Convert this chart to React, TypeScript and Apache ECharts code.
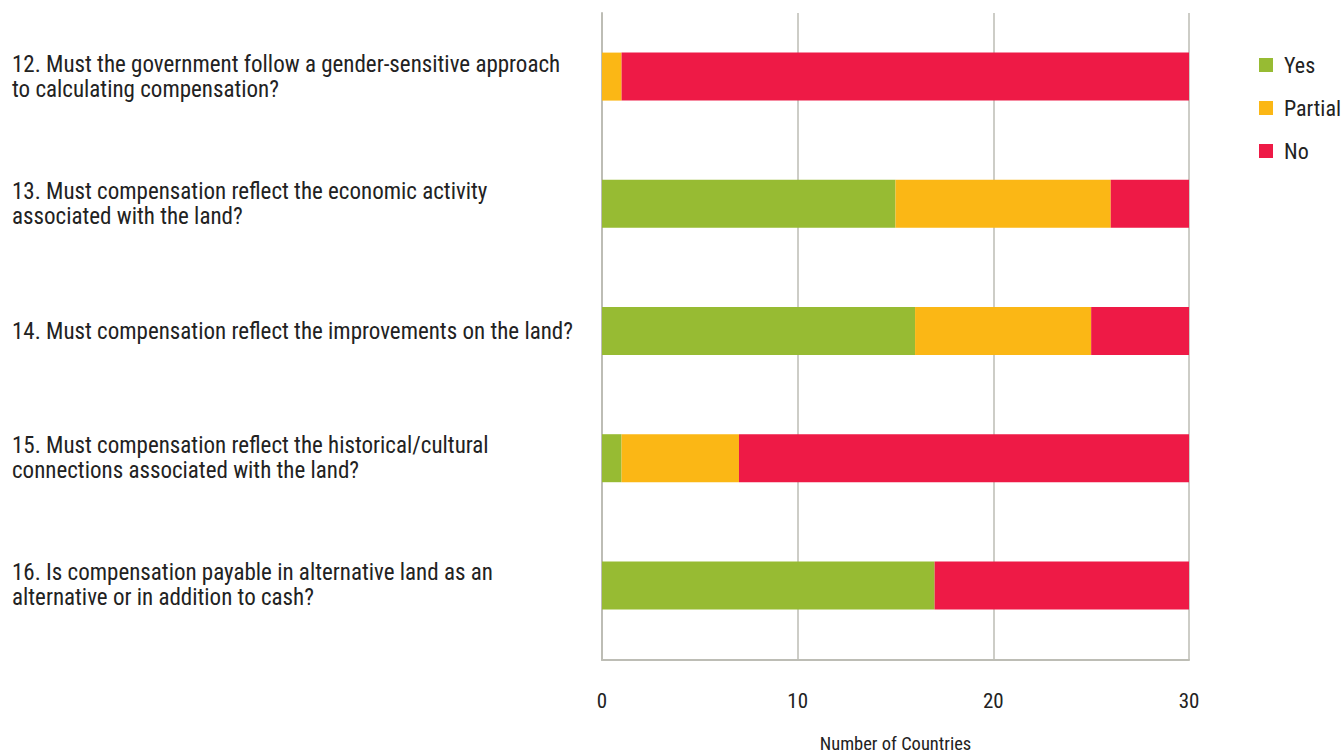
import React, { useEffect, useRef } from "react";
import * as echarts from "echarts";

const categories = [
  "12. Must the government follow a gender-sensitive approach\nto calculating compensation?",
  "13. Must compensation reflect the economic activity\nassociated with the land?",
  "14. Must compensation reflect the improvements on the land?",
  "15. Must compensation reflect the historical/cultural\nconnections associated with the land?",
  "16. Is compensation payable in alternative land as an\nalternative or in addition to cash?",
];
const yesValues = [0, 15, 16, 1, 17];
const partialValues = [1, 11, 9, 6, 0];
const noValues = [29, 4, 5, 23, 13];
const seriesNames = ["Yes", "Partial", "No"];
const colors = ["#97bb33", "#fbb715", "#ee1a46"];

const FONT = "'Roboto Condensed', 'Liberation Sans Narrow', Roboto, sans-serif";
const LINE = "#bdbdb5";

export default function App() {
  const ref = useRef<HTMLDivElement>(null);
  useEffect(() => {
    document.body.style.margin = "0";
    const chart = echarts.init(ref.current!, null, { renderer: "svg" });
    const values = [yesValues, partialValues, noValues];
    chart.setOption({
      animation: false,
      color: colors,
      textStyle: { fontFamily: FONT },
      legend: {
        orient: "vertical",
        left: 1254,
        top: 49,
        itemWidth: 14,
        itemHeight: 14,
        itemGap: 21,
        icon: "rect",
        data: seriesNames,
        textStyle: { fontFamily: FONT, fontSize: 22, color: "#222", padding: [0, 0, 0, 6] },
      },
      grid: [
        { left: 602, top: 13, right: 154, bottom: 104, containLabel: false, outerBoundsMode: "none" },
        { left: 602, top: 13, right: 154, bottom: 93, containLabel: false, outerBoundsMode: "none" },
      ],
      xAxis: [
        {
          gridIndex: 0,
          type: "value",
          min: 0,
          max: 30,
          interval: 10,
          axisLine: { show: false },
          axisTick: { show: false },
          axisLabel: { show: false },
          splitLine: { show: false },
        },
        {
          gridIndex: 1,
          type: "value",
          min: 0,
          max: 30,
          interval: 10,
          name: "Number of Countries",
          nameLocation: "middle",
          nameGap: 74,
          nameTextStyle: { fontFamily: FONT, fontSize: 18.5, color: "#222" },
          axisLine: { show: true, lineStyle: { color: LINE, width: 2 } },
          axisTick: { show: false },
          axisLabel: { margin: 30, fontFamily: FONT, fontSize: 21, color: "#222" },
          splitLine: { show: true, lineStyle: { color: LINE, width: 1.5 } },
        },
      ],
      yAxis: [
        {
          gridIndex: 0,
          type: "category",
          data: categories,
          inverse: true,
          axisLine: { show: false },
          axisTick: { show: false },
          axisLabel: {
            align: "left",
            margin: 590,
            fontFamily: FONT,
            fontSize: 23,
            lineHeight: 25,
            color: "#222",
          },
          splitLine: { show: false },
        },
        {
          gridIndex: 1,
          type: "value",
          min: 0,
          max: 1,
          axisLine: { show: true, lineStyle: { color: LINE, width: 2 } },
          axisTick: { show: false },
          axisLabel: { show: false },
          splitLine: { show: false },
        },
      ],
      series: seriesNames.map((name, i) => ({
        name,
        type: "bar",
        stack: "total",
        xAxisIndex: 0,
        yAxisIndex: 0,
        barWidth: 48,
        data: values[i],
        itemStyle: { color: colors[i] },
      })),
    });
    return () => chart.dispose();
  }, []);
  return <div ref={ref} style={{ width: 1343, height: 753 }} />;
}
